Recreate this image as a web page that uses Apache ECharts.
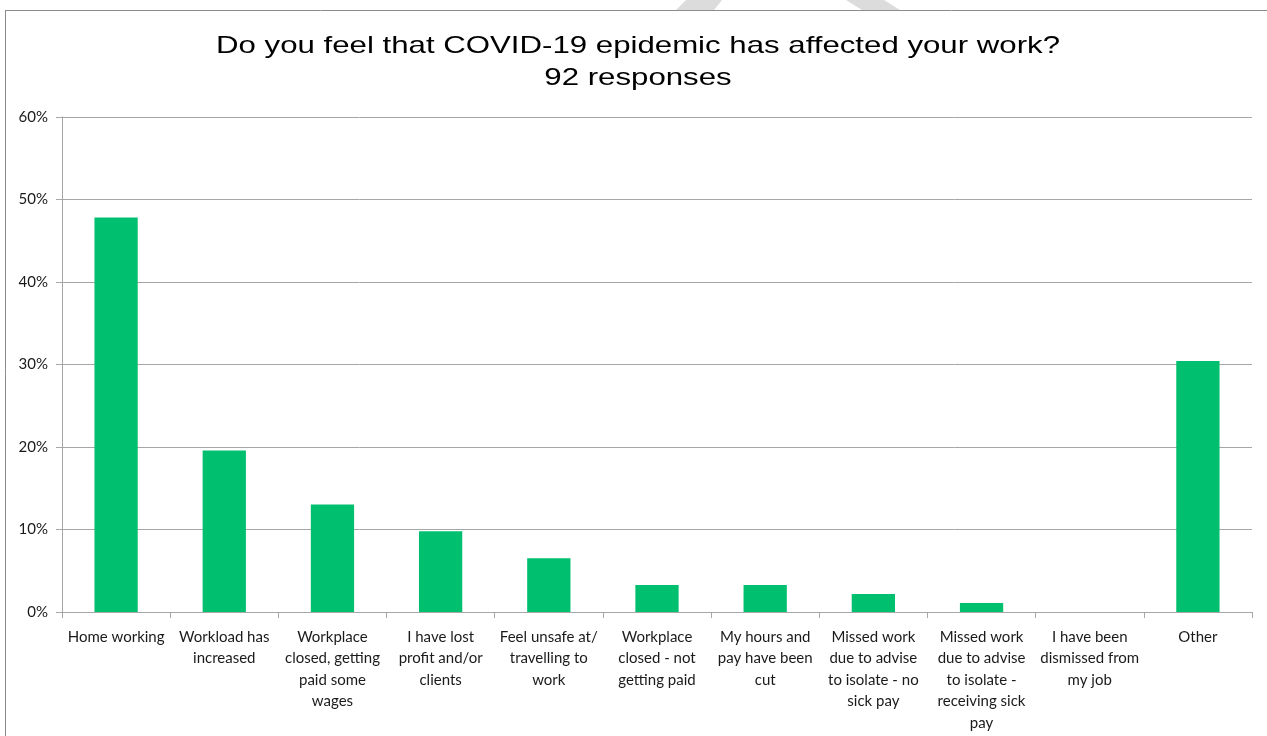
<!DOCTYPE html>
<html>
<head>
<meta charset="utf-8">
<script src="https://cdn.jsdelivr.net/npm/echarts@6/dist/echarts.min.js"></script>
<style>
  html, body { margin: 0; padding: 0; background: #fff; }
  #chart { width: 1267px; height: 736px; }
</style>
</head>
<body>
<div id="chart"></div>
<script>
// Survey answers (share of 92 responses, in percent)
const categories = [
  'Home working',
  'Workload has\nincreased',
  'Workplace\nclosed, getting\npaid some\nwages',
  'I have lost\nprofit and/or\nclients',
  'Feel unsafe at/\ntravelling to\nwork',
  'Workplace\nclosed - not\ngetting paid',
  'My hours and\npay have been\ncut',
  'Missed work\ndue to advise\nto isolate - no\nsick pay',
  'Missed work\ndue to advise\nto isolate -\nreceiving sick\npay',
  'I have been\ndismissed from\nmy job',
  'Other'
];
const shares = [47.83, 19.57, 13.04, 9.78, 6.52, 3.26, 3.26, 2.17, 1.09, 0, 30.43];
const titleLines = ['Do you feel that COVID-19 epidemic has affected your work?', '92 responses'];

const chart = echarts.init(document.getElementById('chart'));
const labelFont = 'Lato, "Open Sans", sans-serif';
const titleStyle = {
  fontFamily: '"Liberation Sans", Arial, sans-serif',
  fontSize: 24,
  fill: '#000',
  align: 'center',
  verticalAlign: 'middle'
};

chart.setOption({
  animation: false,
  backgroundColor: '#fff',
  graphic: [
    // page frame
    { type: 'line', shape: { x1: 5.5, y1: 10.5, x2: 5.5, y2: 736 }, style: { stroke: '#8c8c8c', lineWidth: 1 } },
    { type: 'line', shape: { x1: 5, y1: 10.5, x2: 1267, y2: 10.5 }, style: { stroke: '#8c8c8c', lineWidth: 1 } },
    // faint grey strokes above the frame
    { type: 'polygon', shape: { points: [[676, 10], [714, 10], [722, 0], [686, 0]] }, style: { fill: '#dcdcdc' } },
    { type: 'polygon', shape: { points: [[846, 0], [884, 0], [900, 10], [862, 10]] }, style: { fill: '#dcdcdc' } },
    // two-line heading, slightly widened
    { type: 'text', x: 638, y: 46, scaleX: 1.3, style: Object.assign({ text: titleLines[0] }, titleStyle) },
    { type: 'text', x: 638, y: 78, scaleX: 1.3, style: Object.assign({ text: titleLines[1] }, titleStyle) }
  ],
  grid: { left: 62, right: 15, top: 117, bottom: 124, containLabel: false },
  xAxis: {
    type: 'category',
    data: categories,
    boundaryGap: true,
    axisLine: { lineStyle: { color: '#a6a6a6', width: 1 } },
    axisTick: { show: true, length: 6, alignWithLabel: false, lineStyle: { color: '#a6a6a6' } },
    axisLabel: {
      interval: 0,
      margin: 14,
      fontFamily: labelFont,
      fontSize: 15,
      lineHeight: 21.5,
      color: '#1a1a1a',
      align: 'center',
      verticalAlign: 'top'
    }
  },
  yAxis: {
    type: 'value',
    min: 0,
    max: 60,
    interval: 10,
    axisLine: { show: true, lineStyle: { color: '#a6a6a6' } },
    axisTick: { show: true, length: 6, lineStyle: { color: '#a6a6a6' } },
    splitLine: { lineStyle: { color: '#a6a6a6', width: 1 } },
    axisLabel: {
      formatter: '{value}%',
      margin: 14,
      fontFamily: labelFont,
      fontSize: 15,
      color: '#1a1a1a'
    }
  },
  series: [{
    type: 'bar',
    data: shares,
    barWidth: '40%',
    itemStyle: { color: '#00BF6F' }
  }]
});
</script>
</body>
</html>
